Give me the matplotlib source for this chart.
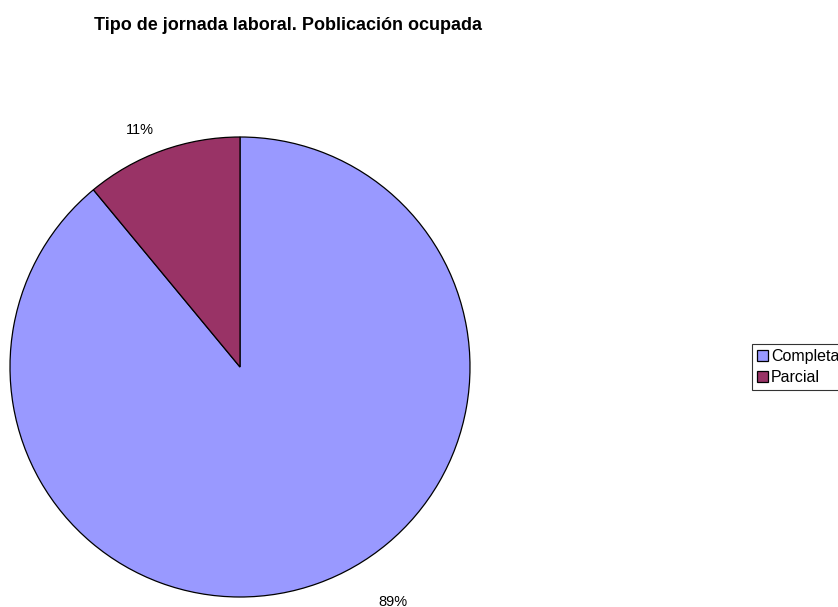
import matplotlib
matplotlib.use("Agg")
import matplotlib.pyplot as plt

labels = ["Completa", "Parcial"]
values = [89, 11]
pct_labels = ["89%", "11%"]
colours = ["#9999FF", "#993366"]

plt.rcParams['font.family'] = ['Liberation Sans', 'DejaVu Sans']

fig = plt.figure(figsize=(8.38, 6.07), dpi=100)
fig.text(94 / 838, 1 - 25 / 607, "Tipo de jornada laboral. Poblicación ocupada",
         fontsize=13, fontweight='bold', va='center', ha='left')

ax = fig.add_axes([10 / 838, 10 / 607, 460 / 838, 460 / 607])
wedges, texts = ax.pie(values, colors=colours, startangle=90, counterclock=False,
                       labels=pct_labels, labeldistance=1.1,
                       wedgeprops=dict(edgecolor='black', linewidth=0.9),
                       textprops=dict(fontsize=10.5))
# nudge the percentage labels to where they sit in the original
texts[0].set_position((0.665, -1.02))
texts[1].set_position((-0.435, 1.03))
for t in texts:
    t.set_ha('center')
    t.set_va('center')
ax.set_xlim(-1, 1)
ax.set_ylim(-1, 1)
ax.set_aspect('equal')
ax.axis('off')

leg = fig.legend(wedges, labels, loc='upper left',
                 bbox_to_anchor=(752 / 838, 1 - 344 / 607),
                 fontsize=11.5, frameon=True, fancybox=False,
                 handlelength=0.7, handleheight=0.7, handletextpad=0.2,
                 borderpad=0.3, labelspacing=0.4, borderaxespad=0)
leg.get_frame().set_edgecolor('black')
leg.get_frame().set_linewidth(0.8)

fig.savefig("out.png", dpi=100)
